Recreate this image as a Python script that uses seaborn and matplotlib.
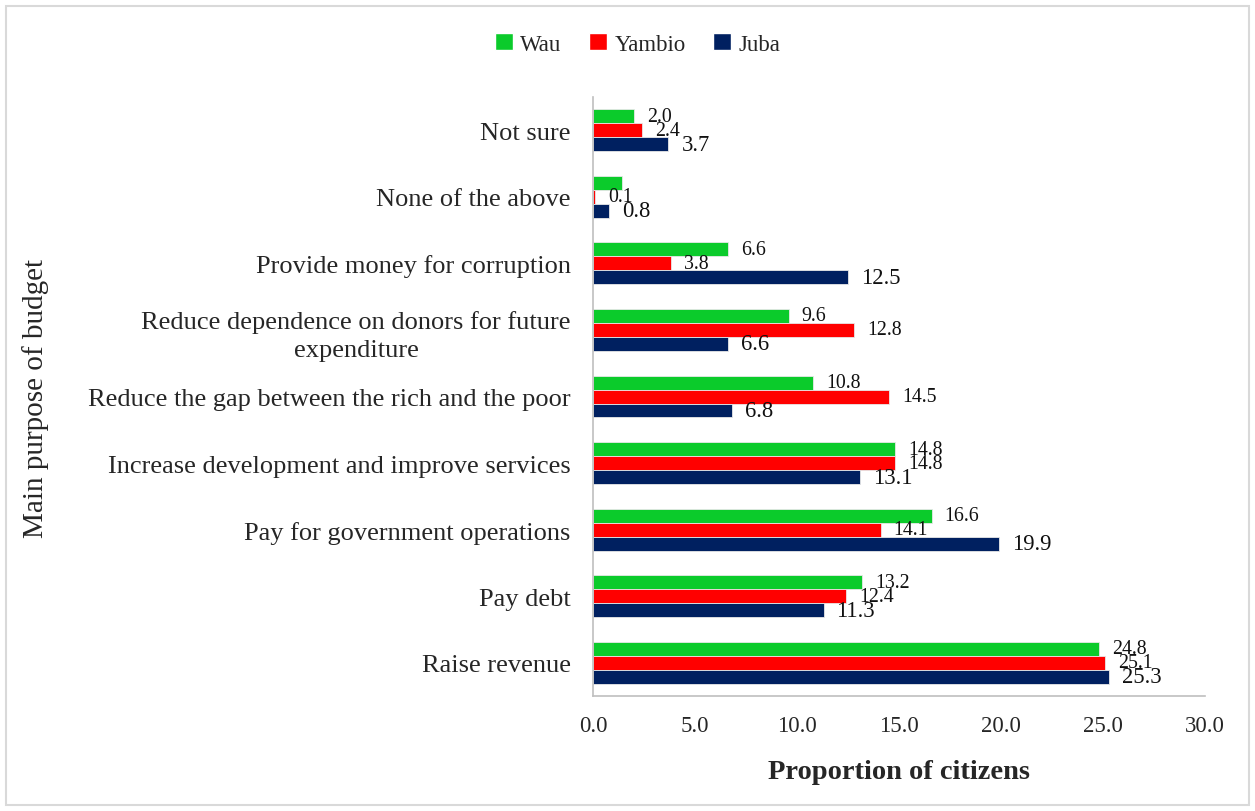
import matplotlib
matplotlib.use("Agg")
import matplotlib.pyplot as plt
import matplotlib.patches as mpatches
import pandas as pd
import seaborn as sns

categories = [
    "Not sure",
    "None of the above",
    "Provide money for corruption",
    "Reduce dependence on donors for future\nexpenditure",
    "Reduce the gap between the rich and the poor",
    "Increase development and improve services",
    "Pay for government operations",
    "Pay debt",
    "Raise revenue",
]
towns = ["Wau", "Yambio", "Juba"]
wau = [2.0, 1.4, 6.6, 9.6, 10.8, 14.8, 16.6, 13.2, 24.8]
yambio = [2.4, 0.1, 3.8, 12.8, 14.5, 14.8, 14.1, 12.4, 25.1]
juba = [3.7, 0.8, 12.5, 6.6, 6.8, 13.1, 19.9, 11.3, 25.3]
# bars drawn without a value label
unlabeled = {("Wau", "None of the above")}
x_ticks = [0, 5, 10, 15, 20, 25, 30]

colors = {"Wau": "#0BCB2B", "Yambio": "#FF0000", "Juba": "#002060"}

df = pd.DataFrame({
    "purpose": categories * 3,
    "town": [t for t in towns for _ in categories],
    "value": wau + yambio + juba,
})

sns.set_theme(style="white")
plt.rcParams["font.family"] = ["Liberation Serif", "DejaVu Serif"]

fig = plt.figure(figsize=(12.55, 8.12), dpi=100)
ax = fig.add_axes([0.4725, 0.1416, 0.4877, 0.7377])

sns.barplot(data=df, y="purpose", x="value", hue="town", order=categories,
            hue_order=towns, palette=colors, saturation=1, orient="h", width=0.63,
            edgecolor="#E8E8E8", linewidth=0.6, legend=False, ax=ax)

# value labels at the outer end of each bar
for cont, town in zip(ax.containers, towns):
    size = 16.3 if town == "Juba" else 14.3
    for bar, cat in zip(cont, categories):
        if (town, cat) in unlabeled:
            continue
        w = bar.get_width()
        ax.annotate(f"{w:.1f}", (w, bar.get_y() + bar.get_height() / 2),
                    xytext=(13, 0), textcoords="offset pixels",
                    ha="left", va="center", fontsize=size, color="#111111")

ax.set_xlim(0, 30)
ax.set_ylim(len(categories) - 0.5, -0.5)
ax.set_xticks(x_ticks)
ax.set_xticklabels([f"{t:.1f}" for t in x_ticks], fontsize=16.5)
ax.tick_params(axis="x", length=0, pad=14)
ax.tick_params(axis="y", length=0, pad=16)
for lbl in ax.get_yticklabels():
    lbl.set_fontsize(19)
    lbl.set_multialignment("center")
    lbl.set_linespacing(1.35)

ax.set_ylabel("")
ax.set_xlabel("Proportion of citizens", fontsize=20.5, fontweight="bold", labelpad=16)
fig.text(0.028, 0.509, "Main purpose of budget", rotation=90, fontsize=21,
         ha="center", va="center")

for side in ["top", "right"]:
    ax.spines[side].set_visible(False)
for side in ["left", "bottom"]:
    ax.spines[side].set_color("#BFBFBF")
    ax.spines[side].set_linewidth(1.2)

handles = [mpatches.Patch(facecolor=colors[t], label=t) for t in towns]
fig.legend(handles=handles, loc="center", bbox_to_anchor=(0.508, 0.945), ncol=3,
           frameon=False, fontsize=16.5, handlelength=0.8, handleheight=0.8,
           handletextpad=0.3, columnspacing=1.2)

fig.patches.append(mpatches.Rectangle((0.005, 0.008), 0.99, 0.983, transform=fig.transFigure,
                                      fill=False, edgecolor="#D9D9D9", linewidth=1.5))

fig.savefig("out.png", dpi=100)
